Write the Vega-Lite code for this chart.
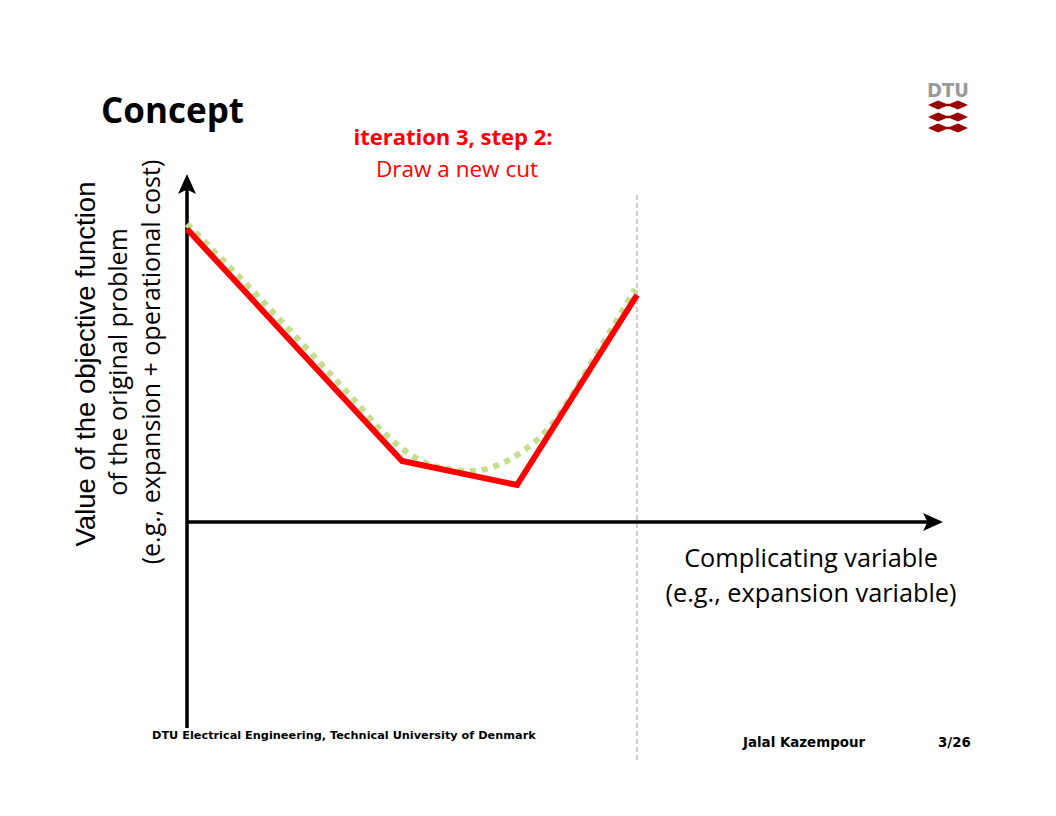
{
  "$schema": "https://vega.github.io/schema/vega-lite/v6.json",
  "width": 1056,
  "height": 816,
  "autosize": {"type": "fit", "contains": "padding"},
  "padding": 0,
  "background": "white",
  "config": {"view": {"stroke": null}},
  "encoding": {
    "x": {"field": "x", "type": "quantitative", "scale": {"domain": [-187, 869], "nice": false, "zero": false}, "axis": null},
    "y": {"field": "y", "type": "quantitative", "scale": {"domain": [-294, 522], "nice": false, "zero": false}, "axis": null}
  },
  "layer": [
    {
      "data": {"values": [{"x": 450, "y": -238, "y2": 327}]},
      "mark": {"type": "rule", "color": "#bfbfbf", "strokeWidth": 1.5, "strokeDash": [5, 3]},
      "encoding": {"y2": {"field": "y2"}}
    },
    {
      "data": {"values": [{"x": 0, "y": -206, "y2": 338}]},
      "mark": {"type": "rule", "color": "black", "strokeWidth": 3.5},
      "encoding": {"y2": {"field": "y2"}}
    },
    {
      "data": {"values": [{"x": 0, "x2": 746, "y": 0}]},
      "mark": {"type": "rule", "color": "black", "strokeWidth": 3.5},
      "encoding": {"x2": {"field": "x2"}}
    },
    {
      "data": {"values": [{"x": 0, "y": 338}]},
      "mark": {"type": "point", "shape": "M0,-1 L0.9,1 L0,0.55 L-0.9,1 Z", "filled": true, "color": "black", "opacity": 1, "size": 400, "strokeWidth": 0}
    },
    {
      "data": {"values": [{"x": 746, "y": 0}]},
      "mark": {"type": "point", "shape": "M1,0 L-1,0.9 L-0.55,0 L-1,-0.9 Z", "filled": true, "color": "black", "opacity": 1, "size": 400, "strokeWidth": 0}
    },
    {
      "data": {"values": [
        {"x": 0, "y": 298}, {"x": 63, "y": 234}, {"x": 123, "y": 170}, {"x": 168, "y": 121},
        {"x": 193, "y": 93}, {"x": 213, "y": 75}, {"x": 236, "y": 60}, {"x": 260, "y": 53},
        {"x": 283, "y": 51}, {"x": 306, "y": 55}, {"x": 330, "y": 67}, {"x": 350, "y": 82},
        {"x": 366, "y": 99}, {"x": 388, "y": 132}, {"x": 413, "y": 174}, {"x": 433, "y": 207},
        {"x": 448, "y": 233}
      ]},
      "mark": {"type": "line", "color": "#c4df8c", "strokeWidth": 6, "strokeDash": [6, 6], "strokeCap": "butt", "interpolate": "monotone"}
    },
    {
      "data": {"values": [
        {"x": 0, "y": 293}, {"x": 215, "y": 61}, {"x": 330, "y": 37}, {"x": 450, "y": 227}
      ]},
      "mark": {"type": "line", "color": "#ff0000", "strokeWidth": 6, "strokeJoin": "miter"}
    },
    {
      "data": {"values": [{"x": -86, "y": 399, "t": "Concept"}]},
      "mark": {"type": "text", "font": "Open Sans", "fontWeight": "bold", "fontSize": 35, "align": "left", "baseline": "alphabetic", "color": "black"},
      "encoding": {"text": {"field": "t"}}
    },
    {
      "data": {"values": [{"x": 266, "y": 377, "t": "iteration 3, step 2:"}]},
      "mark": {"type": "text", "font": "Open Sans", "fontWeight": "bold", "fontSize": 22, "align": "center", "baseline": "alphabetic", "color": "#ff0000"},
      "encoding": {"text": {"field": "t"}}
    },
    {
      "data": {"values": [{"x": 270, "y": 345, "t": "Draw a new cut"}]},
      "mark": {"type": "text", "font": "Open Sans", "fontSize": 22.5, "align": "center", "baseline": "alphabetic", "color": "#ff0000"},
      "encoding": {"text": {"field": "t"}}
    },
    {
      "data": {"values": [{"x": -92, "y": 158, "t": "Value of the objective function"}]},
      "mark": {"type": "text", "font": "Liberation Sans", "fontSize": 27.5, "angle": 270, "align": "center", "baseline": "alphabetic", "color": "black"},
      "encoding": {"text": {"field": "t"}}
    },
    {
      "data": {"values": [
        {"x": -60, "y": 160, "t": "of the original problem"},
        {"x": -27, "y": 160, "t": "(e.g., expansion + operational cost)"}
      ]},
      "mark": {"type": "text", "font": "Open Sans", "fontSize": 25, "angle": 270, "align": "center", "baseline": "alphabetic", "color": "black"},
      "encoding": {"text": {"field": "t"}}
    },
    {
      "data": {"values": [
        {"x": 624, "y": -45, "t": "Complicating variable"},
        {"x": 624, "y": -80, "t": "(e.g., expansion variable)"}
      ]},
      "mark": {"type": "text", "font": "Open Sans", "fontSize": 25.3, "align": "center", "baseline": "alphabetic", "color": "black"},
      "encoding": {"text": {"field": "t"}}
    },
    {
      "data": {"values": [{"x": -35, "y": -217, "t": "DTU Electrical Engineering, Technical University of Denmark"}]},
      "mark": {"type": "text", "font": "DejaVu Sans", "fontWeight": "bold", "fontSize": 11.3, "align": "left", "baseline": "alphabetic", "color": "black"},
      "encoding": {"text": {"field": "t"}}
    },
    {
      "data": {"values": [
        {"x": 556, "y": -225, "t": "Jalal Kazempour"},
        {"x": 751, "y": -225, "t": "3/26"}
      ]},
      "mark": {"type": "text", "font": "DejaVu Sans", "fontWeight": "bold", "fontSize": 13.4, "align": "left", "baseline": "alphabetic", "color": "black"},
      "encoding": {"text": {"field": "t"}}
    },
    {
      "data": {"values": [{"x": 761, "y": 425, "t": "DTU"}]},
      "mark": {"type": "text", "font": "'DejaVu Sans Condensed', 'DejaVu Sans', sans-serif", "fontWeight": "bold", "fontSize": 20, "align": "center", "baseline": "alphabetic", "color": "#999999"},
      "encoding": {"text": {"field": "t"}}
    },
    {
      "data": {"values": [{"x": 761, "y": 417}, {"x": 761, "y": 405}, {"x": 761, "y": 394}]},
      "mark": {"type": "point", "shape": "M-1,0 L-0.5,-0.22 L-0.1,-0.06 L0.1,-0.06 L0.5,-0.22 L1,0 L0.5,0.22 L0.1,0.06 L-0.1,0.06 L-0.5,0.22 Z", "filled": true, "color": "#990000", "opacity": 1, "size": 1600, "strokeWidth": 0}
    }
  ]
}
